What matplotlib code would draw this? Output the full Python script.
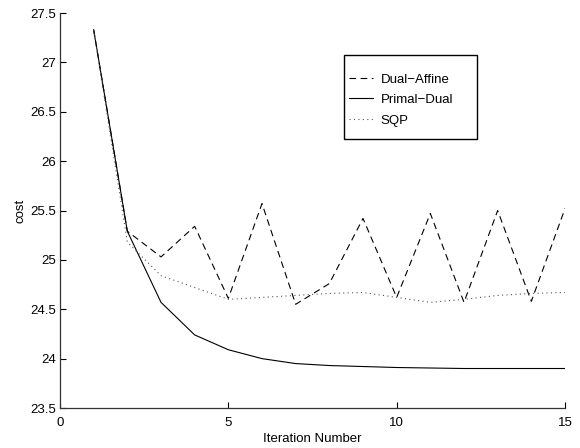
import matplotlib
matplotlib.use("Agg")
import matplotlib.pyplot as plt
from matplotlib.patches import Rectangle

plt.rcParams['font.family'] = ['Liberation Sans', 'DejaVu Sans']

iterations = list(range(1, 16))
dual_affine = [27.33, 25.29, 25.03, 25.34, 24.61, 25.57, 24.55, 24.76, 25.42, 24.62, 25.47, 24.57, 25.50, 24.58, 25.52]
primal_dual = [27.33, 25.29, 24.57, 24.24, 24.09, 24.00, 23.95, 23.93, 23.92, 23.91, 23.905, 23.90, 23.90, 23.90, 23.90]
sqp = [27.33, 25.18, 24.84, 24.72, 24.60, 24.62, 24.64, 24.66, 24.67, 24.62, 24.57, 24.60, 24.64, 24.66, 24.67]

x_ticks = [0, 5, 10, 15]
y_ticks = [23.5, 24, 24.5, 25, 25.5, 26, 26.5, 27, 27.5]
y_ticklabels = ['23.5', '24', '24.5', '25', '25.5', '26', '26.5', '27', '27.5']

FS = 9.5

fig = plt.figure(figsize=(5.8, 4.48), dpi=100)
ax = fig.add_axes([60/580, 40/448, 505/580, 395/448])

ax.plot(iterations, dual_affine, color='black', linestyle=(0, (6, 4)), linewidth=0.8, label='Dual\u2212Affine')
ax.plot(iterations, primal_dual, color='black', linestyle='-', linewidth=0.8, label='Primal\u2212Dual')
ax.plot(iterations, sqp, color='#555555', linestyle=(0, (1, 3)), linewidth=0.8, label='SQP')

ax.set_xlim(0, 15)
ax.set_ylim(23.5, 27.5)
ax.set_xticks(x_ticks)
ax.set_xticklabels([str(t) for t in x_ticks])
ax.set_yticks(y_ticks)
ax.set_yticklabels(y_ticklabels)
ax.tick_params(direction='in', length=4, width=0.8, labelsize=FS, colors='black')
ax.tick_params(axis='x', pad=6.5)
ax.tick_params(axis='y', pad=2.5)
ax.spines['top'].set_visible(False)
ax.spines['right'].set_visible(False)
for s in ['left', 'bottom']:
    ax.spines[s].set_linewidth(0.9)
    ax.spines[s].set_color('#333333')

ax.set_xlabel('Iteration Number', fontsize=FS, labelpad=3)
ax.set_ylabel('cost', fontsize=FS, labelpad=3)

# legend box
ax.add_patch(Rectangle((0.5624, 0.681), 0.8257 - 0.5624, 0.8937 - 0.681,
                       transform=ax.transAxes, fill=True, facecolor='white',
                       edgecolor='black', linewidth=1.0, zorder=4))
leg = ax.legend(loc='upper left', bbox_to_anchor=(0.572, 0.847), fontsize=FS,
                frameon=False, handlelength=1.8, handletextpad=0.6,
                borderpad=0, labelspacing=0.62, borderaxespad=0)
leg.set_zorder(5)

fig.savefig('out.png', dpi=100)
